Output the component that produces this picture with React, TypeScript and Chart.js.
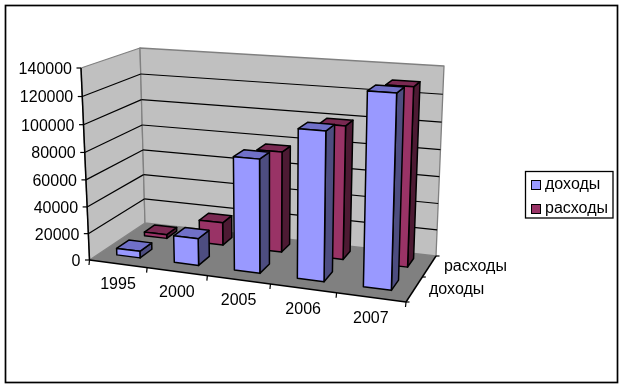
import React, { useEffect, useRef } from "react";
import { Chart, registerables } from "chart.js";

Chart.register(...registerables);

const categories = ["1995", "2000", "2005", "2006", "2007"];
const incomeLabel = "доходы";
const expenseLabel = "расходы";
const income = [5000, 20000, 82500, 106000, 135000];
const expense = [3000, 17500, 76000, 99000, 130000];
const incomeColors = { front: "#9999FF", top: "#7070C8", side: "#4D4D80" };
const expenseColors = { front: "#993366", top: "#7A2952", side: "#4D1A33" };
const FONT = '16px "Liberation Sans", Arial, sans-serif';

type Pt = [number, number];
const corners: Record<string, Pt> = {
  flb: [89.5, 260], flt: [81, 68], blb: [145, 223], blt: [140, 48],
  brb: [436, 256], brt: [444, 66], frb: [406, 302], frt: [412, 92],
};
const warp = (t: number, k: number) => (k * t) / (1 + (k - 1) * t);
const mix = (a: Pt, b: Pt, t: number): Pt => [a[0] + (b[0] - a[0]) * t, a[1] + (b[1] - a[1]) * t];
const project = (u: number, v: number, w: number): Pt => {
  const U = warp(u, 0.89), V = warp(v, 0.955), W = warp(w, 1.19);
  const c = corners;
  const front = mix(mix(c.flb, c.frb, U), mix(c.flt, c.frt, U), V);
  const back = mix(mix(c.blb, c.brb, U), mix(c.blt, c.brt, U), V);
  return mix(front, back, W);
};

const poly = (ctx: CanvasRenderingContext2D, pts: Pt[], fill: string | null, stroke: string | null, lw = 1) => {
  ctx.beginPath();
  pts.forEach((p, i) => (i ? ctx.lineTo(p[0], p[1]) : ctx.moveTo(p[0], p[1])));
  ctx.closePath();
  if (fill) { ctx.fillStyle = fill; ctx.fill(); }
  if (stroke) { ctx.strokeStyle = stroke; ctx.lineWidth = lw; ctx.lineJoin = "round"; ctx.stroke(); }
};
const seg = (ctx: CanvasRenderingContext2D, a: Pt, b: Pt, color = "#000", lw = 1.2) => {
  ctx.beginPath(); ctx.moveTo(a[0], a[1]); ctx.lineTo(b[0], b[1]);
  ctx.strokeStyle = color; ctx.lineWidth = lw; ctx.stroke();
};

const swatch = (color: string) => {
  const c = document.createElement("canvas");
  c.width = 10; c.height = 10;
  const g = c.getContext("2d")!;
  g.fillStyle = "#000"; g.fillRect(0, 0, 10, 10);
  g.fillStyle = color; g.fillRect(1, 1, 8, 8);
  return c;
};

const scene3d = {
  id: "scene3d",
  beforeDraw(chart: any) {
    const ctx = chart.ctx as CanvasRenderingContext2D;
    ctx.save();
    ctx.fillStyle = "#fff"; ctx.fillRect(0, 0, chart.width, chart.height);
    ctx.strokeStyle = "#000"; ctx.lineWidth = 1.7;
    ctx.strokeRect(5.5, 5.5, 612, 377);
    ctx.restore();
  },
  beforeDatasetsDraw(chart: any) {
    const ctx = chart.ctx as CanvasRenderingContext2D;
    const { chartArea: a, scales } = chart;
    const x = scales.x, y = scales.y;
    const vOf = (val: number) => (a.bottom - y.getPixelForValue(val)) / a.height;
    const uOf = (px: number) => (px - a.left) / a.width;
    ctx.save();

    // walls and floor
    poly(ctx, [project(0,0,0), project(1,0,0), project(1,0,1), project(0,0,1)], "#808080", null);
    poly(ctx, [project(0,0,0), project(0,1,0), project(0,1,1), project(0,0,1)], "#C0C0C0", "#808080", 1.3);
    poly(ctx, [project(0,0,1), project(0,1,1), project(1,1,1), project(1,0,1)], "#C0C0C0", "#808080", 1.3);

    // gridlines
    y.ticks.forEach((t: any) => {
      const v = vOf(t.value);
      if (v > 0 && v < 1) {
        seg(ctx, project(0, v, 0), project(0, v, 1));
        seg(ctx, project(0, v, 1), project(1, v, 1));
      }
    });

    // axes
    seg(ctx, project(0, 0, 0), project(0, 1, 0), "#000", 1.5);
    seg(ctx, project(0, 0, 0), project(1, 0, 0), "#000", 1.5);
    seg(ctx, project(1, 0, 0), project(1, 0, 1), "#000", 1.5);

    ctx.font = FONT; ctx.fillStyle = "#000";
    ctx.textAlign = "right"; ctx.textBaseline = "middle";
    y.ticks.forEach((t: any) => {
      const p = project(0, vOf(t.value), 0);
      seg(ctx, p, [p[0] - 4.5, p[1]]);
      ctx.fillStyle = "#000";
      ctx.fillText(String(t.value), p[0] - 9, p[1] + 1.5);
    });

    const n = categories.length;
    for (let i = 0; i <= n; i++) {
      const p = project(i / n, 0, 0);
      seg(ctx, p, [p[0] - 0.5, p[1] + 5]);
    }
    ctx.textAlign = "center";
    ctx.fillStyle = "#000";
    categories.forEach((c, i) => {
      const p = project(uOf(x.getPixelForValue(i)), 0, 0);
      ctx.fillText(c, p[0], p[1] + 21);
    });

    const ds = chart.data.datasets;
    for (let i = 0; i <= ds.length; i++) {
      const p = project(1, 0, i / ds.length);
      seg(ctx, p, [p[0] + 3.5, p[1]]);
    }
    ctx.textAlign = "left";
    ctx.fillStyle = "#000";
    ds.forEach((d: any, i: number) => {
      const p = project(1, 0, (i + 0.5) / ds.length);
      ctx.fillText(d.label, p[0] + 14.5, p[1] + 1);
    });

    // bars, back series first
    for (let s = ds.length - 1; s >= 0; s--) {
      const meta = chart.getDatasetMeta(s);
      const colors = ds[s].faces;
      const w0 = (s + 0.34) / ds.length, w1 = (s + 0.76) / ds.length;
      meta.data.forEach((el: any) => {
        const u0 = uOf(el.x - el.width / 2), u1 = uOf(el.x + el.width / 2);
        const v1 = (a.bottom - el.y) / a.height, v0 = (a.bottom - el.base) / a.height;
        poly(ctx, [project(u1,v0,w0), project(u1,v1,w0), project(u1,v1,w1), project(u1,v0,w1)], colors.side, "#000", 1.5);
        poly(ctx, [project(u0,v1,w0), project(u1,v1,w0), project(u1,v1,w1), project(u0,v1,w1)], colors.top, "#000", 1.5);
        poly(ctx, [project(u0,v0,w0), project(u1,v0,w0), project(u1,v1,w0), project(u0,v1,w0)], colors.front, "#000", 1.5);
      });
    }
    ctx.restore();
    return false;
  },
  afterDraw(chart: any) {
    const ctx = chart.ctx as CanvasRenderingContext2D;
    const hit = chart.legend.legendHitBoxes[0];
    ctx.save();
    ctx.strokeStyle = "#000"; ctx.lineWidth = 1.3;
    ctx.strokeRect(Math.round(hit.left) - 9.5, Math.round(hit.top) - 5.5, 87.5, 46.5);
    ctx.restore();
  },
};

export default function App() {
  const ref = useRef<HTMLCanvasElement>(null);
  useEffect(() => {
    document.body.style.margin = "0";
    const chart = new Chart(ref.current!, {
      type: "bar",
      data: {
        labels: categories,
        datasets: [
          { label: incomeLabel, data: income, backgroundColor: incomeColors.front, borderColor: "#000", faces: incomeColors } as any,
          { label: expenseLabel, data: expense, backgroundColor: expenseColors.front, borderColor: "#000", faces: expenseColors } as any,
        ],
      },
      options: {
        responsive: false,
        animation: false,
        events: [],
        layout: { padding: { right: 6, top: 6 } },
        datasets: { bar: { grouped: false, categoryPercentage: 1, barPercentage: 0.41 } },
        scales: {
          x: { display: false },
          y: { display: false, min: 0, max: 140000, ticks: { stepSize: 20000 } },
        },
        plugins: {
          tooltip: { enabled: false },
          legend: {
            position: "right",
            labels: {
              color: "#000",
              font: { family: '"Liberation Sans", Arial, sans-serif', size: 16 },
              usePointStyle: true,
              pointStyleWidth: 2,
              padding: 8,
              generateLabels: (c: any) =>
                c.data.datasets.map((d: any, i: number) => ({
                  text: d.label,
                  fillStyle: d.backgroundColor,
                  strokeStyle: "#000",
                  lineWidth: 1,
                  pointStyle: swatch(d.backgroundColor),
                  datasetIndex: i,
                })),
            },
          },
        },
      },
      plugins: [scene3d],
    } as any);
    return () => chart.destroy();
  }, []);
  return <canvas ref={ref} width={624} height={388} style={{ display: "block" }} />;
}
